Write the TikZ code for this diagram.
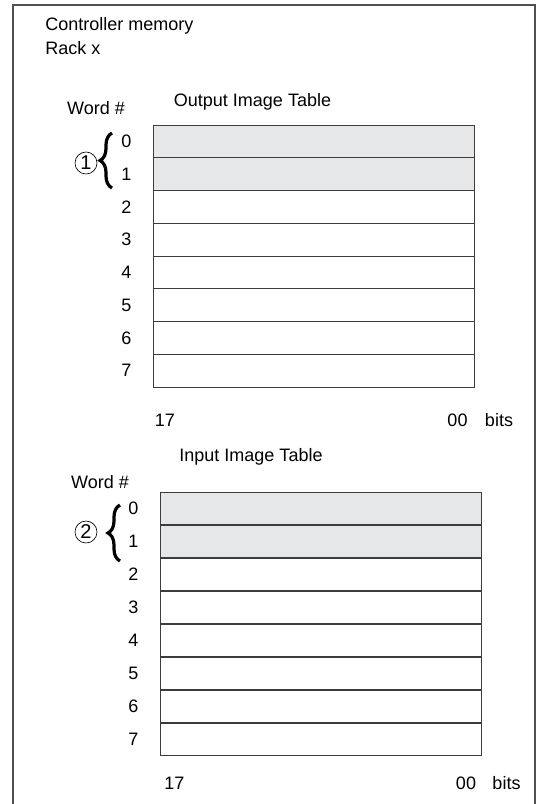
\documentclass[tikz,border=0pt]{standalone}
\usepackage{fontspec}
\setmainfont{Liberation Sans}
\usetikzlibrary{positioning, decorations.pathreplacing}
\definecolor{imgline}{HTML}{3C3C3C}
\definecolor{imgshade}{HTML}{E6E7E8}
\definecolor{imgframe}{HTML}{505050}

\begin{document}
\begin{tikzpicture}[
  x=0.75pt, y=-0.75pt,
  every node/.style={font=\fontsize{13.5}{18}\selectfont},
  row/.style={
    rectangle, draw=imgline, line width=0.6pt,
    minimum width=240.75pt, minimum height=24.6pt,
    inner sep=0pt, outer sep=0pt, anchor=north west
  },
  shaded/.style={row, fill=imgshade},
  wordnum/.style={inner sep=0pt},
  lbl/.style={inner sep=0pt},
  marker/.style={circle, draw, line width=0.5pt, inner sep=0pt,
    minimum size=16.5pt, font=\fontsize{15}{18}\selectfont},
  curly/.style={decorate, decoration={brace, amplitude=9pt},
    line width=2.4pt, line join=miter},
  frame/.style={draw=imgframe, line width=1.1pt},
]
\useasboundingbox (0,0) rectangle (540,804);

% Frame, open at the bottom
\draw[frame] (13,804) -- (13,5) -- (535,5) -- (535,804);

\node[lbl, align=left, anchor=north west] (title) at (45,17) {Controller memory\\Rack x};

% Output image table
\node[lbl] (outcap) at (252.5,102) {Output Image Table};
\node[lbl] (outword) at (96,108) {Word \#};
\foreach \i/\s in {0/shaded,1/shaded,2/row,3/row,4/row,5/row,6/row,7/row}{
  \node[\s] (out\i) at (153,{125+32.75*\i}) {};
  \node[wordnum, left=16pt of out\i.west] (outw\i) {\i};
}
\draw[curly] (112,188) -- (112,133);
\node[marker] (mark1) at (86,163) {1};
\node[lbl] (outmsb) at (165,420) {17};
\node[lbl] (outlsb) at (457.5,420) {00};
\node[lbl] (outbits) at (499,420) {bits};

% Input image table
\node[lbl] (incap) at (251,457) {Input Image Table};
\node[lbl] (inword) at (100,482) {Word \#};
\foreach \i/\s in {0/shaded,1/shaded,2/row,3/row,4/row,5/row,6/row,7/row}{
  \node[\s] (in\i) at (160,{492+33*\i}) {};
  \node[wordnum, left=16pt of in\i.west] (inw\i) {\i};
}
\draw[curly] (120,561) -- (120,505);
\node[marker] (mark2) at (86,532) {2};
\node[lbl] (inmsb) at (174.5,783) {17};
\node[lbl] (inlsb) at (466,783) {00};
\node[lbl] (inbits) at (506.5,783) {bits};

\end{tikzpicture}
\end{document}
